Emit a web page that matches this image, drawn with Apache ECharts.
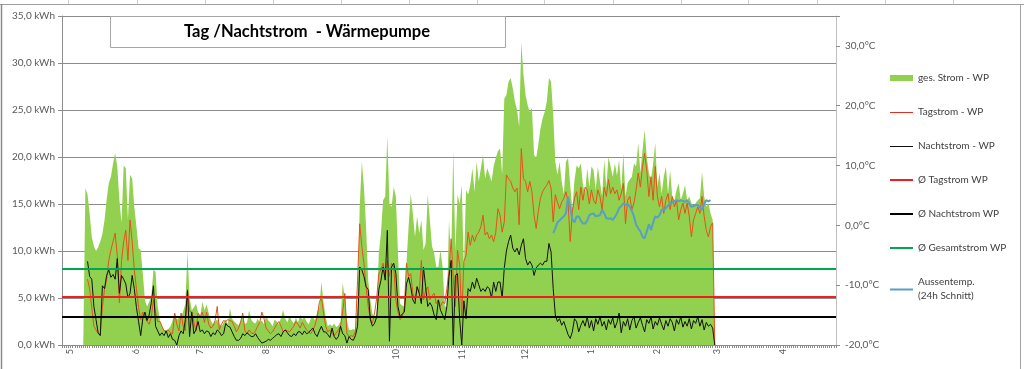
<!DOCTYPE html>
<html><head><meta charset="utf-8">
<script src="https://cdn.jsdelivr.net/npm/echarts@6/dist/echarts.min.js"></script>
<style>html,body{margin:0;padding:0;background:#fff}#c{width:1024px;height:369px}</style>
</head><body><div id="c"></div>
<script>
// ---- axis / categories ----
const axisStartDate = '2012-04-27';
const axisDayCount = 365;

// ---- series values (daily, kWh) ----
const gesStart = '2012-05-07';
const gesStrom = [0,
16.7,16.0,14.0,11.5,10.5,10.0,10.4,11.0,11.8,13.3,
15.5,17.2,17.9,19.3,20.4,19.0,15.4,13.0,19.1,18.8,
13.3,18.1,17.7,14.7,12.6,10.3,10.1,7.6,4.8,4.1,
4.6,5.1,8.0,7.8,4.1,2.7,2.0,1.6,1.6,1.7,
2.0,2.6,3.4,2.7,2.9,3.0,3.6,4.4,9.9,5.1,
3.7,4.0,4.4,3.5,3.0,4.6,3.7,4.3,3.4,2.6,
2.2,2.5,2.7,2.3,2.0,2.4,2.7,2.2,3.9,2.8,
2.5,2.3,2.1,2.6,3.0,2.2,2.4,3.7,2.7,2.4,
2.3,2.8,2.4,2.6,2.2,3.1,2.6,2.4,2.0,2.7,
2.5,2.2,2.9,3.7,2.8,2.4,3.1,2.6,2.3,2.9,
2.4,3.2,2.7,3.0,2.5,2.2,2.8,3.0,2.6,3.5,
4.0,6.7,4.5,3.0,2.0,2.2,2.0,2.3,1.9,2.1,
2.5,6.6,5.0,2.6,1.6,1.6,1.7,1.6,4.0,14.7,
19.5,16.8,12.6,6.9,4.8,3.3,3.0,3.2,9.8,11.9,
15.4,15.8,22.2,15.0,14.7,16.8,15.8,9.8,4.4,4.2,
4.1,8.7,12.6,16.1,14.0,11.5,13.7,11.9,13.3,10.1,
10.8,16.0,13.3,10.5,9.8,8.3,8.3,10.1,8.3,4.1,
4.1,13.3,9.0,20.7,10.0,16.0,15.0,17.0,8.0,16.5,
16.0,17.0,18.8,16.3,19.5,17.4,18.8,20.2,17.7,18.8,
18.1,17.4,19.0,19.9,20.6,20.9,18.1,26.2,26.6,28.0,
28.4,27.3,25.9,25.0,23.2,32.2,28.8,26.6,25.5,24.8,
25.2,20.2,19.9,21.3,23.0,24.1,24.8,25.9,28.4,28.0,
24.5,19.5,18.1,19.5,17.4,16.0,19.5,19.9,17.0,14.5,
17.5,19.1,18.8,19.3,17.0,16.1,18.8,16.8,19.0,18.6,
16.5,19.0,17.4,15.8,19.7,16.8,20.0,19.0,17.9,19.3,
18.0,19.7,16.5,20.4,15.8,17.2,17.6,17.9,19.3,19.0,
21.5,18.3,20.7,22.9,20.0,18.3,17.6,19.3,21.5,16.8,
18.3,16.1,17.9,19.0,16.1,18.6,15.8,15.4,16.5,17.2,
15.4,16.1,17.0,15.4,15.8,15.1,14.7,15.1,15.4,15.6,
18.4,15.8,14.7,15.1,14.0,13.3,
0];

const tagNachtStart = '2012-05-09';
const tagStrom = [
7.0,6.0,4.0,2.0,1.6,1.2,1.1,4.0,5.9,
7.0,9.0,10.1,11.0,11.9,9.5,4.5,9.0,11.0,12.2,
9.0,13.3,11.0,8.0,6.0,4.0,2.7,3.5,3.0,2.5,
2.2,3.0,4.8,3.5,2.5,2.5,2.0,1.5,1.4,1.6,
1.3,1.2,3.4,2.2,1.5,3.4,2.0,1.5,5.9,3.6,
3.5,2.5,1.5,3.4,3.0,3.5,2.4,3.5,2.2,1.8,
2.0,2.6,4.1,1.6,2.2,2.6,2.5,2.7,2.6,2.5,
2.0,1.4,1.8,2.4,3.4,1.5,1.2,1.6,1.3,1.2,
1.5,2.0,2.4,3.5,2.8,1.8,1.5,1.2,1.4,1.8,
2.2,2.5,2.0,1.4,1.6,1.5,1.4,1.7,2.0,2.5,
2.2,1.8,2.4,2.0,1.6,1.4,1.2,1.6,2.1,3.0,
4.5,5.1,3.4,2.0,1.4,1.6,1.2,1.0,1.3,1.6,
2.0,3.5,5.5,1.2,0.9,1.0,0.9,1.5,6.9,12.9,
10.5,8.7,6.2,4.1,2.8,2.3,3.4,5.0,7.6,8.0,
8.7,7.3,9.0,7.3,8.7,8.3,4.8,3.5,2.7,3.0,
4.0,8.7,7.3,7.6,5.5,4.8,6.2,5.5,9.0,4.8,
5.8,6.2,4.8,5.2,5.5,4.4,4.8,4.1,4.6,4.4,
6.0,7.8,11.3,7.1,4.1,10.1,8.5,3.0,8.9,9.5,
12.0,10.6,11.7,11.0,11.7,12.0,12.6,13.8,11.7,12.0,
11.3,11.7,11.0,12.0,14.5,13.8,12.0,13.1,18.1,17.7,
17.4,16.7,16.3,16.7,12.8,20.9,17.7,17.4,16.3,17.4,
16.3,13.8,12.4,14.2,15.6,16.3,16.7,17.0,17.5,16.7,
13.1,16.0,15.2,14.5,15.2,15.6,16.3,15.2,11.0,14.2,
15.6,16.3,14.4,16.8,15.4,16.8,16.5,15.0,16.5,15.4,
15.0,16.5,15.8,14.4,16.8,15.8,17.6,16.1,16.8,16.1,
16.5,15.4,16.1,17.2,12.9,15.4,15.8,14.4,15.1,16.5,
18.3,16.8,19.0,20.4,18.6,15.8,17.9,15.4,19.0,15.8,
14.7,15.8,14.0,15.4,16.1,14.4,15.8,14.7,15.4,13.3,
14.4,15.1,14.0,15.1,13.7,11.5,13.3,14.0,14.7,14.0,
15.8,13.7,12.2,11.5,12.6,13.0,
0];

const nachtStrom = [
8.9,7.3,7.0,4.1,2.7,1.3,1.0,6.3,6.0,
7.4,8.0,7.2,7.5,7.0,9.2,5.5,7.4,7.0,6.5,
5.0,5.5,7.4,6.0,4.0,2.5,1.0,2.8,3.5,2.6,
3.2,4.5,6.3,2.0,1.5,1.0,1.3,1.0,1.5,0.8,
1.2,0.6,0.5,0.0,1.0,1.5,1.2,2.7,5.8,0.9,
3.5,1.2,1.6,2.5,1.4,1.6,1.2,1.5,1.4,0.9,
1.3,1.1,1.6,1.4,1.0,1.2,2.3,2.0,1.9,1.4,
0.9,0.5,0.5,0.7,1.2,1.0,1.3,1.1,0.9,0.9,
1.2,0.8,0.5,0.2,0.3,0.4,0.6,0.5,0.7,0.9,
1.1,1.2,0.9,1.4,1.6,1.3,1.0,0.9,1.2,1.0,
1.4,1.4,1.1,1.5,1.2,1.3,1.6,1.8,1.2,0.9,
1.5,2.0,1.4,1.4,1.1,0.8,1.8,0.9,0.6,0.9,
2.0,1.2,1.0,0.2,0.9,0.6,0.5,1.0,2.0,8.3,
8.0,7.3,6.2,5.9,2.7,2.0,2.3,3.0,5.9,6.9,
8.3,6.9,12.2,0.4,8.3,8.7,7.6,4.1,3.0,3.3,
3.5,6.5,7.2,6.2,4.8,4.4,6.2,5.5,4.4,8.3,
6.2,4.1,4.5,4.1,3.2,2.7,4.8,3.7,3.2,2.7,
4.1,7.3,9.0,0.0,7.4,7.6,2.8,0.0,4.7,2.8,
6.0,5.7,6.7,6.0,7.1,6.4,5.7,6.0,5.7,6.2,
6.0,5.0,6.7,5.7,6.7,6.7,5.0,8.2,10.0,11.0,
11.7,10.3,9.9,10.3,9.6,10.6,11.3,9.2,8.5,8.9,
8.5,7.4,8.2,8.5,8.7,8.5,8.9,8.9,10.8,9.9,
6.0,3.2,2.5,2.8,2.1,2.5,1.8,1.1,0.7,1.4,
2.8,2.5,1.4,2.1,
2.6,2.0,3.0,1.8,2.6,1.5,2.8,2.2,3.0,2.0,
2.5,1.6,2.7,2.2,2.9,1.8,2.4,3.4,1.3,2.5,
2.0,2.8,1.6,2.6,3.0,1.8,2.4,2.9,2.1,1.4,
2.7,2.3,3.0,1.7,2.5,2.1,2.9,2.2,1.6,2.6,
2.0,2.8,2.4,1.5,2.7,2.2,3.0,1.9,2.5,2.0,
2.8,1.7,2.6,2.3,3.0,2.0,2.7,1.6,2.4,2.0,
2.2,1.8,
0];

// ---- outside temperature (24h mean, °C) ----
const tempStart = '2012-12-14';
const aussenTemp = [
-1.3,-0.5,0.5,0.8,1.2,1.5,2.0,4.8,3.0,1.0,
0.5,1.5,1.5,0.8,0.3,0.3,0.8,1.7,1.9,2.0,
1.5,1.6,1.7,2.6,2.0,1.2,1.1,1.2,0.9,1.4,
2.0,2.9,3.2,3.7,3.4,3.6,3.1,2.4,1.5,0.1,
-0.5,-1.0,-1.9,-2.2,-1.0,0.2,-0.8,0.5,1.5,1.3,
1.7,2.6,2.5,2.9,3.3,3.7,3.8,4.0,4.2,4.0,
4.2,4.1,3.9,4.2,3.6,3.1,3.2,3.4,3.4,3.0,
2.6,3.6,4.2,4.0,4.2];

// ---- averages (kWh) ----
const avgTag = 5.1;
const avgNacht = 3.0;
const avgGesamt = 8.1;

// ---- names ----
const seriesNames = ['ges. Strom - WP','Tagstrom - WP','Nachtstrom - WP','Ø Tagstrom WP','Ø Nachtstrom WP','Ø Gesamtstrom WP','Aussentemp.\n(24h Schnitt)'];
const titleText = 'Tag /Nachtstrom  - Wärmepumpe';

// ---- build category axis ----
function fmt(d){return d.toISOString().slice(0,10);}
const categories = [];
{
  const d0 = new Date(axisStartDate + 'T00:00:00Z');
  for (let i = 0; i < axisDayCount; i++) {
    categories.push(fmt(new Date(d0.getTime() + i * 86400000)));
  }
}
function place(arr, start) {
  const out = new Array(categories.length).fill(null);
  const s = categories.indexOf(start);
  arr.forEach((v, k) => { if (s + k < out.length) out[s + k] = v; });
  return out;
}

const FONT = 'Lato, "Open Sans", sans-serif';
const chart = echarts.init(document.getElementById('c'), null, {renderer: 'canvas'});
const axisGray = '#8c8c8c';
const kwh = v => v.toFixed(1).replace('.', ',') + ' kWh';
const deg = v => (v > 30 ? '' : v.toFixed(1).replace('.', ',') + '°C');

// legend line icons (bbox 23 x 6, line on whole pixel rows)
const iconThin = 'path://M0,0h0.01v0.01h-0.01z M0,3h23v1h-23z M22.99,5.99h0.01v0.01h-0.01z';
const iconMid = 'path://M0,0h0.01v0.01h-0.01z M0,2.5h23v2h-23z M22.99,5.99h0.01v0.01h-0.01z';
const iconThick = 'path://M0,0h0.01v0.01h-0.01z M0,2h23v2h-23z M22.99,5.99h0.01v0.01h-0.01z';

const TAG_COLOR = '#e4521a';
const NACHT_COLOR = '#111111';

chart.setOption({
  backgroundColor: '#ffffff',
  animation: false,
  textStyle: {fontFamily: FONT},
  grid: {left: 62, right: 188, top: 16, bottom: 24, containLabel: false},
  legend: {
    orient: 'vertical', left: 890, top: 71, padding: 0, itemWidth: 23, itemHeight: 6, itemGap: 20,
    textStyle: {fontSize: 10, color: '#404040', fontFamily: FONT, lineHeight: 14},
    selectedMode: false,
    data: [
      {name: seriesNames[0], icon: 'rect'},
      {name: seriesNames[1], icon: iconThin, itemStyle: {color: '#e0301e'}},
      {name: seriesNames[2], icon: iconThin},
      {name: seriesNames[3], icon: iconThick},
      {name: seriesNames[4], icon: iconThick},
      {name: seriesNames[5], icon: iconThick},
      {name: seriesNames[6], icon: iconMid}
    ]
  },
  xAxis: {
    type: 'category', data: categories, boundaryGap: false,
    axisLine: {lineStyle: {color: axisGray}},
    axisTick: {show: true, interval: 0, length: 3, lineStyle: {color: axisGray}},
    axisLabel: {
      interval: (idx, val) => val.slice(8, 10) === '01',
      formatter: v => String(parseInt(v.slice(5, 7), 10)),
      rotate: 90, fontSize: 9, color: '#595959', margin: 4
    },
    splitLine: {show: false}
  },
  yAxis: [
    {
      type: 'value', min: 0, max: 35, interval: 5, position: 'left',
      axisLine: {show: true, lineStyle: {color: axisGray}},
      axisTick: {show: true, length: 4, lineStyle: {color: axisGray}},
      axisLabel: {formatter: kwh, fontSize: 10, color: '#595959', margin: 7},
      splitLine: {show: true, lineStyle: {color: '#8c8c8c', width: 1}}
    },
    {
      type: 'value', min: -20, max: 35, interval: 10, position: 'right',
      axisLine: {show: true, lineStyle: {color: '#bfbfbf'}},
      axisTick: {show: true, length: 4, lineStyle: {color: axisGray}},
      axisLabel: {formatter: deg, fontSize: 10, color: '#595959', margin: 9},
      splitLine: {show: false}
    }
  ],
  series: [
    {
      name: seriesNames[0], type: 'line', data: place(gesStrom, gesStart),
      symbol: 'none', lineStyle: {width: 0}, itemStyle: {color: '#92d050'},
      areaStyle: {color: '#92d050', opacity: 1}, z: 1
    },
    {
      name: seriesNames[1], type: 'line', data: place(tagStrom, tagNachtStart),
      symbol: 'none', lineStyle: {width: 1, color: TAG_COLOR}, itemStyle: {color: TAG_COLOR}, z: 3
    },
    {
      name: seriesNames[2], type: 'line', data: place(nachtStrom, tagNachtStart),
      symbol: 'none', lineStyle: {width: 1, color: NACHT_COLOR}, itemStyle: {color: NACHT_COLOR}, z: 3
    },
    {
      name: seriesNames[3], type: 'line', data: [], symbol: 'none',
      lineStyle: {width: 2, color: '#f01e1e'}, itemStyle: {color: '#f01e1e'}, z: 4,
      markLine: {silent: true, symbol: 'none', label: {show: false}, animation: false,
        lineStyle: {color: '#f01e1e', width: 2, type: 'solid'}, data: [{yAxis: avgTag}]}
    },
    {
      name: seriesNames[4], type: 'line', data: [], symbol: 'none',
      lineStyle: {width: 2, color: '#000000'}, itemStyle: {color: '#000000'}, z: 4,
      markLine: {silent: true, symbol: 'none', label: {show: false}, animation: false,
        lineStyle: {color: '#000000', width: 2, type: 'solid'}, data: [{yAxis: avgNacht}]}
    },
    {
      name: seriesNames[5], type: 'line', data: [], symbol: 'none',
      lineStyle: {width: 2, color: '#00a650'}, itemStyle: {color: '#00a650'}, z: 4,
      markLine: {silent: true, symbol: 'none', label: {show: false}, animation: false,
        lineStyle: {color: '#00a650', width: 2, type: 'solid'}, data: [{yAxis: avgGesamt}]}
    },
    {
      name: seriesNames[6], type: 'line', yAxisIndex: 1, data: place(aussenTemp, tempStart),
      symbol: 'none', lineStyle: {width: 2, color: '#5a9ec6'}, itemStyle: {color: '#5a9ec6'}, z: 5
    }
  ],
  graphic: [
    // spreadsheet frame around the chart object
    {type: 'line', shape: {x1: 0, y1: 4.5, x2: 1024, y2: 4.5}, style: {stroke: '#a0a0a0', lineWidth: 1}, silent: true},
    {type: 'line', shape: {x1: 1.5, y1: 4, x2: 1.5, y2: 369}, style: {stroke: '#8a8a8a', lineWidth: 1.5}, silent: true},
    {type: 'line', shape: {x1: 1020.5, y1: 4, x2: 1020.5, y2: 369}, style: {stroke: '#a0a0a0', lineWidth: 1}, silent: true},
    ...[68, 137, 205, 273, 341, 409, 477, 544, 613, 681, 748, 817, 885, 953].map(x => (
      {type: 'line', shape: {x1: x + 0.5, y1: 0, x2: x + 0.5, y2: 4}, style: {stroke: '#d0d0d0', lineWidth: 1}, silent: true}
    )),
    // title box
    {type: 'rect', shape: {x: 110.5, y: 16.5, width: 395, height: 31}, style: {fill: '#ffffff', stroke: '#a6a6a6', lineWidth: 1}, z: 10, silent: true},
    {type: 'text', x: 307, y: 32, z: 11, silent: true,
      style: {text: titleText, font: 'bold 16.5px ' + FONT, fill: '#000000', textAlign: 'center', textVerticalAlign: 'middle'}}
  ]
});
</script></body></html>
